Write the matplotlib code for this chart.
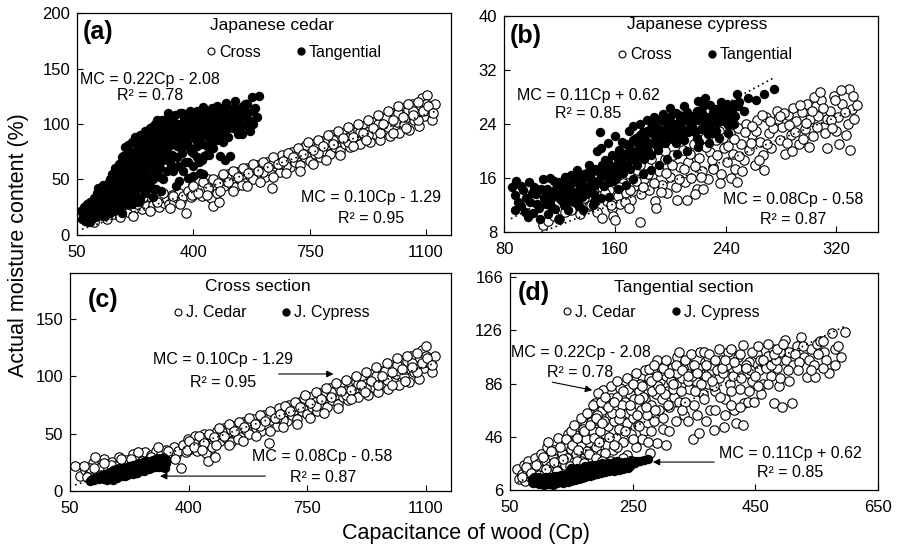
import numpy as np
import matplotlib
matplotlib.use('Agg')
import matplotlib.pyplot as plt
from matplotlib.lines import Line2D

plt.rcParams['font.family'] = ['Liberation Sans', 'DejaVu Sans']

# Japanese cedar, cross section  (Cp, MC %)
cedar_cross = [
    (66, 22), (80, 13), (95, 18), (105, 15), (118, 24), (130, 17), (142, 21), (150, 28), (162, 19), (175, 25),
    (185, 22), (196, 30), (205, 21), (214, 27), (225, 24), (236, 32), (245, 23), (255, 29), (262, 26), (272, 34),
    (280, 27), (290, 31), (298, 25), (305, 35), (312, 29), (320, 32), (328, 28), (335, 36), (342, 30), (350, 33),
    (356, 38), (362, 31), (370, 35), (378, 20), (385, 40), (392, 34), (398, 45), (405, 37), (412, 42), (418, 48),
    (425, 35), (432, 44), (438, 39), (445, 50), (452, 33), (458, 26), (465, 46), (472, 41), (478, 30), (485, 52),
    (492, 44), (498, 49), (505, 55), (512, 46), (518, 51), (525, 43), (532, 57), (540, 50), (548, 54), (555, 47),
    (562, 60), (570, 53), (578, 58), (585, 51), (592, 63), (600, 55), (608, 60), (615, 52), (622, 66), (630, 58),
    (638, 42), (645, 62), (652, 68), (660, 57), (668, 72), (675, 64), (682, 69), (690, 61), (698, 75), (705, 66),
    (712, 71), (720, 63), (728, 78), (735, 70), (742, 74), (750, 67), (758, 82), (765, 73), (772, 78), (780, 70),
    (788, 85), (795, 76), (802, 81), (810, 73), (818, 90), (825, 79), (832, 84), (840, 76), (848, 92), (855, 82),
    (862, 87), (870, 79), (878, 95), (885, 85), (892, 90), (900, 82), (908, 98), (915, 88), (922, 93), (930, 84),
    (938, 102), (945, 91), (952, 96), (960, 86), (968, 105), (975, 94), (982, 99), (990, 89), (998, 110), (1005, 97),
    (1012, 102), (1020, 92), (1028, 114), (1035, 100), (1042, 106), (1050, 95), (1058, 118), (1065, 104), (1072, 109), (1080, 98),
    (1088, 123), (1095, 107), (1102, 126), (1110, 112), (1118, 104), (1128, 118),
    (110, 20), (170, 23), (230, 28), (290, 30), (340, 35), (395, 36), (420, 41), (440, 46), (470, 38), (510, 53),
    (545, 45), (575, 61), (610, 57), (640, 65), (680, 62), (715, 74), (745, 79), (775, 74), (805, 86), (835, 88),
    (865, 84), (895, 95), (925, 90), (955, 100), (985, 97), (1015, 110), (1045, 113), (1075, 104), (1100, 118), (1060, 112),
    (980, 105), (900, 93), (820, 86), (740, 81), (660, 64), (580, 50), (500, 51), (360, 28),
    (400, 44), (415, 38), (430, 48), (445, 42), (460, 50), (475, 47), (490, 55), (505, 48), (520, 58), (535, 52),
    (550, 60), (565, 56), (580, 64), (595, 58), (610, 66), (625, 61), (640, 70), (655, 64), (670, 67), (685, 74),
    (700, 70), (715, 78), (730, 73), (745, 84), (760, 77), (775, 86), (790, 80), (805, 90), (820, 82), (835, 94),
    (850, 87), (865, 97), (880, 88), (895, 100), (910, 92), (925, 104), (940, 96), (955, 108), (970, 100), (985, 112),
    (1000, 104), (1015, 116), (1030, 106), (1045, 118), (1060, 108), (1075, 120), (1090, 112), (1105, 116), (1120, 110), (1040, 96),
    (1000, 92), (960, 92), (920, 86), (880, 80), (840, 72), (800, 68), (760, 64), (720, 58), (680, 56), (640, 52),
    (600, 48), (560, 44), (520, 40), (480, 40), (440, 36), (250, 34), (200, 28), (150, 24), (120, 20), (310, 38),
    (330, 24), (270, 22), (220, 17), (180, 16), (140, 14), (100, 12), (90, 22), (125, 30),
]

# Japanese cedar, tangential section
cedar_tan = [
    (62, 22), (65, 14), (70, 18), (72, 25), (75, 13), (78, 20), (80, 28), (83, 16), (86, 23), (88, 12),
    (90, 30), (93, 19), (95, 14), (98, 26), (100, 33), (102, 21), (105, 16), (108, 28), (110, 38), (112, 42),
    (115, 24), (118, 18), (120, 31), (122, 36), (125, 22), (128, 45), (130, 28), (133, 17), (135, 34), (138, 40),
    (140, 25), (143, 30), (145, 48), (148, 20), (150, 37), (153, 43), (155, 27), (158, 33), (160, 52), (162, 22),
    (165, 40), (168, 46), (170, 30), (172, 56), (175, 35), (178, 42), (180, 63), (183, 28), (185, 50), (188, 71),
    (190, 38), (193, 45), (195, 58), (198, 33), (200, 66), (202, 81), (205, 48), (208, 40), (210, 54), (213, 62),
    (215, 75), (218, 36), (220, 58), (222, 45), (225, 68), (228, 52), (230, 83), (233, 62), (235, 42), (238, 72),
    (240, 56), (243, 64), (245, 78), (248, 48), (250, 60), (253, 88), (255, 70), (258, 55), (260, 80), (263, 66),
    (265, 92), (268, 50), (270, 74), (273, 62), (275, 85), (278, 34), (280, 70), (283, 95), (285, 58), (288, 78),
    (289, 41), (290, 104), (293, 66), (295, 88), (298, 74), (300, 60), (304, 40), (305, 92), (308, 80), (310, 68),
    (314, 98), (318, 76), (320, 86), (323, 106), (326, 72), (330, 90), (334, 62), (338, 96), (342, 82), (345, 100),
    (348, 44), (350, 70), (354, 88), (358, 49), (360, 94), (364, 78), (368, 102), (372, 86), (373, 106), (376, 66),
    (380, 96), (383, 51), (385, 80), (390, 90), (394, 104), (399, 53), (400, 74), (405, 110), (408, 86), (412, 98),
    (416, 66), (419, 56), (421, 106), (425, 82), (430, 55), (432, 71), (436, 94), (438, 72), (440, 102), (445, 88),
    (448, 72), (452, 108), (456, 96), (460, 78), (465, 100), (471, 107), (475, 92), (478, 112), (481, 71), (485, 98),
    (488, 84), (492, 104), (494, 68), (498, 119), (500, 104), (505, 110), (509, 71), (512, 100), (518, 114), (525, 121),
    (530, 106), (534, 91), (540, 112), (547, 91), (550, 116), (555, 118), (562, 110), (570, 94), (575, 124), (580, 112),
    (596, 125),
    (70, 16), (76, 23), (84, 19), (92, 25), (97, 17), (104, 31), (109, 22), (116, 35), (121, 27), (127, 20),
    (132, 38), (137, 29), (142, 44), (147, 24), (151, 40), (156, 47), (161, 36), (166, 28), (169, 52), (174, 44),
    (179, 33), (182, 57), (187, 45), (192, 62), (197, 50), (203, 58), (207, 70), (212, 46), (217, 64), (224, 76),
    (227, 59), (232, 70), (237, 50), (242, 82), (247, 66), (252, 74), (257, 62), (262, 86), (267, 76), (272, 68),
    (277, 90), (282, 80), (287, 66), (292, 84), (297, 96), (302, 78), (307, 70), (312, 88), (316, 82), (322, 94),
    (328, 80), (332, 98), (336, 72), (340, 88), (347, 92), (352, 80), (357, 98), (362, 86), (366, 74), (370, 92),
    (378, 100), (382, 84), (388, 96), (392, 76), (397, 94), (403, 100), (410, 80), (414, 92), (420, 98), (427, 90),
    (434, 100), (442, 96), (450, 92), (458, 104), (462, 86), (468, 98), (476, 100), (483, 104), (490, 110), (503, 96),
    (515, 108), (522, 102), (528, 114), (537, 104), (545, 100), (553, 108), (560, 118), (566, 104), (585, 114), (590, 106),
    (150, 50), (155, 55), (160, 45), (165, 60), (170, 50), (175, 64), (180, 55), (185, 70), (190, 60), (194, 79),
    (198, 72), (200, 56), (205, 76), (210, 68), (215, 84), (220, 72), (225, 88), (230, 64), (235, 80), (240, 90),
    (245, 70), (250, 86), (255, 94), (260, 74), (265, 84), (270, 96), (276, 97), (280, 88), (285, 100), (290, 92),
    (295, 82), (300, 98), (305, 104), (310, 94), (315, 86), (320, 100), (325, 110), (330, 96), (335, 104), (340, 92),
    (345, 108), (350, 100), (355, 94), (360, 110), (366, 110), (370, 100), (375, 108), (380, 88), (385, 104), (390, 112),
    (395, 98), (400, 104), (410, 112), (415, 102), (425, 108), (430, 115), (435, 98), (445, 110), (455, 114), (462, 104),
    (470, 116), (480, 108), (486, 112), (495, 116),
    (160, 28), (175, 24), (190, 30), (205, 34), (215, 28), (225, 38), (240, 32), (255, 38), (265, 44), (275, 42),
    (250, 44), (235, 30), (200, 28), (185, 20), (170, 26), (220, 40), (195, 42), (260, 54), (280, 50), (300, 52),
    (320, 58), (310, 50), (330, 66), (340, 58), (355, 62), (370, 58), (385, 66), (400, 62), (410, 70), (425, 68),
    (440, 80), (455, 84), (470, 86), (490, 90), (505, 88), (520, 96), (540, 96), (560, 98), (580, 100),
]

# Japanese cypress, cross section
cypress_cross = [
    (128, 11.2), (132, 12.4), (135, 10.6), (138, 13.0), (141, 11.8), (143, 12.0), (145, 14.0), (147, 11.0), (149, 13.4), (151, 10.1),
    (152, 15.0), (154, 12.6), (156, 14.2), (158, 11.6), (159, 10.4), (160, 9.8), (161, 16.0), (162, 13.4), (164, 12.2), (166, 15.2),
    (168, 13.8), (170, 16.6), (172, 12.8), (174, 14.8), (176, 17.2), (178, 9.5), (179, 13.6), (181, 15.8), (183, 18.0), (185, 14.2),
    (187, 16.4), (189, 12.6), (190, 11.6), (192, 17.0), (194, 15.0), (196, 18.8), (198, 13.8), (200, 16.2), (202, 19.4), (204, 14.6),
    (205, 12.8), (207, 17.6), (209, 20.2), (211, 15.4), (213, 18.4), (215, 16.0), (217, 21.0), (219, 14.4), (221, 19.0), (223, 17.0),
    (225, 22.0), (227, 15.8), (229, 19.8), (231, 17.6), (233, 21.6), (235, 23.0), (237, 16.6), (239, 20.4), (241, 18.4), (243, 22.6),
    (245, 19.6), (247, 17.4), (249, 23.4), (251, 21.0), (253, 18.6), (255, 24.0), (257, 20.2), (259, 22.4), (261, 18.0), (263, 24.6),
    (265, 21.4), (267, 19.4), (269, 25.0), (271, 22.6), (273, 20.4), (275, 24.2), (277, 26.0), (279, 21.6), (281, 23.6), (283, 19.6),
    (285, 25.4), (287, 22.4), (289, 26.4), (291, 24.4), (293, 21.0), (295, 25.8), (297, 23.2), (299, 27.0), (301, 24.8), (303, 22.2),
    (305, 26.6), (307, 25.2), (309, 27.6), (311, 23.6), (313, 20.5), (313, 24.7), (315, 26.0), (318, 28.2), (321, 25.0), (324, 27.0),
    (328, 24.0), (329, 29.2), (331, 26.2), (335, 26.8),
    (108, 9.0), (112, 9.6), (116, 10.4), (120, 10.0), (124, 11.0), (146, 12.6), (153, 13.8), (157, 12.0), (163, 14.6), (167, 12.4),
    (171, 14.2), (175, 15.6), (180, 14.6), (184, 16.6), (188, 15.2), (193, 14.0), (197, 16.8), (201, 18.0), (206, 15.8), (210, 17.4),
    (214, 19.6), (218, 17.8), (222, 16.2), (226, 20.6), (230, 18.6), (234, 19.4), (238, 22.0), (242, 20.8), (246, 21.8), (250, 19.2),
    (254, 22.8), (258, 21.2), (262, 23.0), (266, 25.4), (270, 21.0), (274, 23.4), (278, 24.8), (282, 25.6), (286, 23.8), (290, 22.8),
    (294, 26.8), (298, 24.2), (302, 26.0), (306, 23.6), (310, 26.4), (316, 24.6), (320, 23.0), (326, 25.8), (333, 24.8), (322, 21.0),
    (212, 12.8), (218, 13.6), (224, 14.4), (231, 17.3), (236, 15.2), (244, 16.0), (248, 15.4), (252, 17.0), (259, 23.7), (264, 18.6),
    (268, 17.2), (272, 24.4), (279, 25.2), (284, 21.2), (288, 20.0), (296, 21.8), (300, 20.6), (304, 28.0), (308, 28.8), (312, 22.6),
    (317, 23.4), (319, 27.6), (323, 29.0), (327, 22.4), (332, 28.2), (330, 20.2), (196, 20.0), (186, 18.8), (178, 18.0), (170, 11.6),
]

# Japanese cypress, tangential section
cypress_tan = [
    (86, 14.6), (88, 13.5), (89, 15.5), (90, 12.5), (92, 11.8), (94, 14.2), (96, 13.0), (97, 10.2), (99, 12.4), (101, 10.8),
    (103, 13.6), (105, 11.6), (107, 14.4), (108, 15.8), (110, 12.2), (112, 10.6), (113, 16.0), (115, 13.4), (117, 11.4), (118, 14.8),
    (120, 10.0), (121, 12.8), (123, 15.2), (125, 13.8), (126, 11.2), (128, 16.4), (130, 14.0), (131, 12.4), (133, 17.2), (135, 15.0),
    (136, 13.2), (138, 16.6), (140, 14.4), (141, 18.0), (143, 15.8), (145, 13.6), (146, 17.4), (147, 20.0), (149, 22.8), (150, 16.2),
    (152, 14.8), (153, 18.6), (155, 17.0), (156, 15.4), (158, 19.4), (160, 17.8), (161, 16.0), (163, 20.2), (165, 18.4), (166, 16.8),
    (168, 21.0), (170, 19.2), (171, 17.4), (173, 21.6), (175, 19.8), (176, 18.0), (178, 22.4), (180, 20.6), (181, 18.8), (183, 23.0),
    (185, 21.2), (186, 19.4), (188, 23.8), (190, 22.0), (191, 20.2), (193, 24.6), (195, 25.5), (196, 21.2), (198, 23.2), (200, 25.0),
    (201, 21.8), (203, 24.0), (205, 22.4), (206, 25.4), (208, 23.4), (210, 21.6), (211, 24.8), (213, 22.8), (215, 25.2), (216, 23.6),
    (218, 22.8), (220, 24.6), (221, 21.4), (223, 25.6), (225, 23.8), (227, 22.5), (228, 25.0), (230, 24.2), (232, 26.2), (233, 23.0),
    (235, 25.4), (237, 27.3), (238, 24.4), (240, 26.0), (242, 23.8), (244, 25.6), (246, 27.0), (248, 28.5), (249, 26.7), (262, 27.5),
    (268, 28.5), (275, 29.2),
    (95, 11.0), (100, 13.8), (104, 12.2), (109, 13.0), (114, 11.8), (119, 13.2), (122, 14.2), (127, 12.6), (129, 15.2), (134, 14.2),
    (137, 16.0), (139, 13.6), (142, 15.0), (144, 17.0), (148, 15.6), (151, 18.0), (154, 16.4), (157, 17.6), (159, 15.6), (162, 18.8),
    (164, 17.2), (167, 19.6), (169, 18.0), (172, 20.0), (174, 18.6), (177, 21.0), (179, 19.6), (182, 21.8), (184, 20.0), (187, 22.6),
    (189, 21.0), (192, 23.2), (194, 21.6), (197, 24.2), (199, 22.2), (202, 23.0), (204, 25.6), (207, 22.0), (209, 24.4), (212, 25.8),
    (214, 23.6), (217, 24.8), (219, 26.0), (222, 23.2), (224, 26.6), (226, 24.4), (229, 26.8), (231, 22.6), (234, 25.0), (236, 26.4),
    (239, 25.2), (241, 27.0), (243, 24.6), (245, 26.4), (247, 25.2),
    (150, 20.5), (155, 21.2), (160, 22.2), (165, 21.4), (170, 23.0), (173, 23.7), (178, 24.0), (183, 24.6), (188, 25.0), (200, 26.4),
    (210, 26.6), (220, 27.4), (225, 27.8), (137, 11.3), (145, 12.4), (150, 13.0), (156, 13.2), (162, 14.4), (168, 15.0), (173, 15.8),
    (180, 16.6), (186, 17.2), (192, 18.0), (198, 18.8), (205, 19.6), (212, 20.0), (220, 20.6), (228, 21.2), (235, 22.0), (242, 22.6),
    (88, 11.2), (92, 14.8), (98, 15.4), (102, 14.6), (106, 10.0), (111, 14.4), (116, 15.6), (124, 16.2), (126, 14.6), (132, 15.6),
    (134, 11.8), (140, 16.8), (144, 12.0),
    (110, 13.6), (113, 12.6), (117, 14.2), (120, 15.4), (123, 12.0), (126, 13.0), (129, 13.8), (132, 13.6), (135, 16.4), (138, 14.8),
    (141, 16.2), (143, 14.0), (146, 15.0), (149, 16.8), (152, 17.2), (155, 18.4), (158, 16.6), (161, 19.2), (164, 19.8), (167, 17.8),
    (170, 20.6), (172, 18.8), (175, 22.0), (177, 19.2), (180, 22.8), (183, 20.8), (186, 23.4), (189, 22.2), (192, 21.0), (195, 22.8),
    (198, 24.6), (201, 23.8), (204, 21.2), (207, 24.6), (210, 23.0), (213, 25.0), (216, 24.2), (219, 22.0), (222, 25.6), (225, 25.0),
    (228, 23.6), (231, 25.8), (234, 24.2), (237, 26.0), (240, 24.8), (243, 26.6), (246, 24.0), (250, 27.2), (253, 26.0), (256, 27.8),
]

# regression lines: slope, intercept, Cp from, Cp to
fit_cedar_cross = (0.10, -1.29, 65, 1130)
fit_cedar_tan = (0.22, -2.08, 62, 596)
fit_cypress_cross = (0.08, -0.58, 107, 335)
fit_cypress_tan = (0.11, 0.62, 85, 275)

fig = plt.figure(figsize=(8.97, 5.52), dpi=100)


def draw_panel(rect, open_pts, filled_pts, open_fit, filled_fit, xlim, xticks, ylim, yticks):
    ax = fig.add_axes(rect)
    ox, oy = np.array(open_pts).T
    fx, fy = np.array(filled_pts).T
    ax.scatter(ox, oy, s=46, facecolors='white', edgecolors='black', linewidths=0.8, zorder=2)
    ax.scatter(fx, fy, s=46, color='black', linewidths=0, zorder=3)
    for k, b, x0, x1 in (open_fit, filled_fit):
        xs = np.array([x0, x1])
        ax.plot(xs, k * xs + b, ls=(0, (1, 2)), color='black', lw=1.2, zorder=4)
    ax.set_xlim(*xlim)
    ax.set_ylim(*ylim)
    ax.set_xticks(xticks)
    ax.set_yticks(yticks)
    ax.tick_params(direction='in', length=4, width=0.8, labelsize=12)
    ax.tick_params(axis='x', pad=7)
    ax.tick_params(axis='y', pad=5)
    for sp in ax.spines.values():
        sp.set_linewidth(0.9)
    return ax


def header(ax, letter, lpos, title, tpos, labels, legpos):
    ax.text(lpos[0], lpos[1], letter, transform=ax.transAxes, fontsize=18,
            fontweight='bold', ha='left', va='center')
    ax.text(tpos[0], tpos[1], title, transform=ax.transAxes, fontsize=12.5,
            ha='center', va='center')
    h_open = Line2D([], [], marker='o', ls='none', mfc='white', mec='black', ms=5, mew=0.8)
    h_fill = Line2D([], [], marker='o', ls='none', mfc='black', mec='black', ms=5)
    ax.legend([h_open, h_fill], labels, ncol=2, loc='center', bbox_to_anchor=legpos,
              frameon=False, fontsize=11.5, handlelength=0.6, handletextpad=0.2,
              columnspacing=2.2, borderpad=0)


def eq(ax, line1, line2, x, y1, y2):
    ax.text(x, y1, line1, fontsize=11.5, ha='center', va='center', zorder=6)
    ax.text(x, y2, line2, fontsize=11.5, ha='center', va='center', zorder=6)


def arrow(ax, start, end):
    ax.annotate('', xy=end, xytext=start,
                arrowprops=dict(arrowstyle='-|>', color='black', lw=0.8,
                                mutation_scale=10, shrinkA=0, shrinkB=0), zorder=6)


# (a) Japanese cedar
ax_a = draw_panel([0.0858, 0.5743, 0.4170, 0.4021], cedar_cross, cedar_tan,
                  fit_cedar_cross, fit_cedar_tan,
                  (50, 1175), [50, 400, 750, 1100], (0, 200), [0, 50, 100, 150, 200])
header(ax_a, '(a)', (0.016, 0.914), 'Japanese cedar', (0.52, 0.946),
       ['Cross', 'Tangential'], (0.58, 0.824))
eq(ax_a, 'MC = 0.22Cp - 2.08', 'R² = 0.78', 270, 140, 126)
eq(ax_a, 'MC = 0.10Cp - 1.29', 'R² = 0.95', 935, 34, 15)

# (b) Japanese cypress
ax_b = draw_panel([0.5619, 0.5797, 0.4169, 0.3913], cypress_cross, cypress_tan,
                  fit_cypress_cross, fit_cypress_tan,
                  (80, 350), [80, 160, 240, 320], (8, 40), [8, 16, 24, 32, 40])
header(ax_b, '(b)', (0.016, 0.907), 'Japanese cypress', (0.516, 0.962),
       ['Cross', 'Tangential'], (0.537, 0.82))
eq(ax_b, 'MC = 0.11Cp + 0.62', 'R² = 0.85', 141, 28.2, 25.5)
eq(ax_b, 'MC = 0.08Cp - 0.58', 'R² = 0.87', 289, 12.8, 9.8)

# (c) cross section, both species
ax_c = draw_panel([0.0780, 0.1105, 0.4248, 0.3949], cedar_cross, cypress_cross,
                  fit_cedar_cross, fit_cypress_cross,
                  (50, 1175), [50, 400, 750, 1100], (0, 190), [0, 50, 100, 150])
header(ax_c, '(c)', (0.047, 0.876), 'Cross section', (0.493, 0.936),
       ['J. Cedar', 'J. Cypress'], (0.528, 0.817))
eq(ax_c, 'MC = 0.10Cp - 1.29', 'R² = 0.95', 503, 115, 95)
eq(ax_c, 'MC = 0.08Cp - 0.58', 'R² = 0.87', 796, 30, 11.5)
arrow(ax_c, (666, 102), (828, 102))
arrow(ax_c, (627, 13), (316, 13))

# (d) tangential section, both species
ax_d = draw_panel([0.5686, 0.1123, 0.4102, 0.3931], cedar_tan, cypress_tan,
                  fit_cedar_tan, fit_cypress_tan,
                  (50, 650), [50, 250, 450, 650], (6, 169), [6, 46, 86, 126, 166])
header(ax_d, '(d)', (0.022, 0.908), 'Tangential section', (0.473, 0.935),
       ['J. Cedar', 'J. Cypress'], (0.41, 0.82))
eq(ax_d, 'MC = 0.22Cp - 2.08', 'R² = 0.78', 165, 109.5, 94)
eq(ax_d, 'MC = 0.11Cp + 0.62', 'R² = 0.85', 507, 33.7, 18.8)
arrow(ax_d, (119, 87), (184, 81))
arrow(ax_d, (383, 27), (283, 27))

fig.text(0.021, 0.556, 'Actual moisture content (%)', rotation=90,
         fontsize=15.5, ha='center', va='center')
fig.text(0.519, 0.034, 'Capacitance of wood (Cp)', fontsize=15.5,
         ha='center', va='center')

fig.savefig('out.png', dpi=100)
